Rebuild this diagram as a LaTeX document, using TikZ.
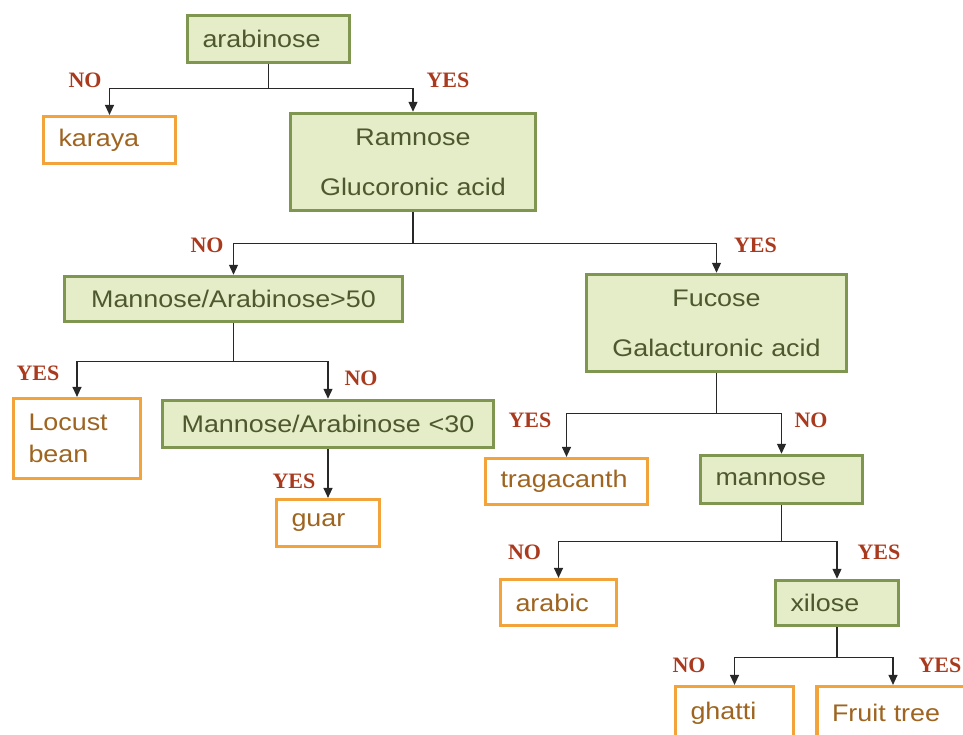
\documentclass[tikz,border=0pt]{standalone}
\usepackage{fontspec}
\setmainfont{Liberation Sans}[FakeStretch=1.12]
\newfontfamily\labelfont{Liberation Serif}
\usetikzlibrary{arrows.meta}

\definecolor{testfill}{RGB}{228,237,200}
\definecolor{testline}{RGB}{126,150,80}
\definecolor{testtext}{RGB}{78,88,46}
\definecolor{gumline}{RGB}{242,163,58}
\definecolor{gumtext}{RGB}{158,100,32}
\definecolor{answertext}{RGB}{170,58,30}
\definecolor{linkgray}{RGB}{40,40,40}

\begin{document}
\begin{tikzpicture}[x=1pt, y=-1pt,
		test/.style={draw=testline, fill=testfill, line width=3.5pt, text=testtext,
			inner xsep=15pt, inner ysep=0pt, font=\fontsize{24}{28}\selectfont},
		gum/.style={draw=gumline, fill=white, line width=3.2pt, text=gumtext,
			inner xsep=15pt, inner ysep=0pt, align=left, font=\fontsize{24}{28}\selectfont},
		link/.style={draw=linkgray, line width=1.2pt, -{Triangle[width=9pt,length=10pt]}},
		answer/.style={text=answertext, font=\labelfont\bfseries\fontsize{22}{24}\selectfont}]

			\useasboundingbox (0, 0) rectangle (963, 734);
			\fill[white] (0, 0) rectangle (963, 734);
			\clip (0, 0) rectangle (963, 734);

			% tests
			\node[test, align=left, text width=132pt, minimum height=47pt] (arabinose) at (268.5, 39) {arabinose};
			\node[test, align=center, text width=215pt, minimum height=97pt, font=\fontsize{24}{50}\selectfont]
				(ramnose) at (413, 162) {Ramnose\\Glucoronic acid};
			\node[test, align=center, text width=308pt, minimum height=45pt] (mgreater) at (233.5, 299) {Mannose/Arabinose>50};
			\node[test, align=center, text width=301pt, minimum height=47pt] (mless) at (328, 424) {Mannose/Arabinose <30};
			\node[test, align=center, text width=230pt, minimum height=97pt, font=\fontsize{24}{50}\selectfont]
				(fucose) at (716.5, 323) {Fucose\\Galacturonic acid};
			\node[test, align=left, text width=132pt, minimum height=48pt] (mannose) at (781.5, 479.5) {mannose};
			\node[test, align=left, text width=93pt, minimum height=45pt] (xilose) at (837, 603) {xilose};

			% gums
			\node[gum, text width=102pt, minimum height=47pt] (karaya) at (109.5, 140) {karaya};
			\node[gum, text width=97pt, minimum height=80pt, font=\fontsize{24}{32}\selectfont]
				(locust) at (77, 438.5) {Locust\\bean};
			\node[gum, text width=73pt, minimum height=47pt] (guar) at (328, 523) {guar};
			\node[gum, text width=132pt, minimum height=46pt] (tragacanth) at (566.5, 481.5) {tragacanth};
			\node[gum, text width=86pt, minimum height=46pt] (arabic) at (558.5, 602.5) {arabic};
			% these two run past the lower and right edges
			\node[gum, text width=88pt, minimum height=53pt] (ghatti) at (734.5, 713) {ghatti};
			\node[gum, text width=122pt, minimum height=53pt] (fruit) at (893, 713) {Fruit tree};

			% branches
			\draw[link] (arabinose.south) -- ++(0, 24) -| (karaya.north);
			\draw[link] (arabinose.south) -- ++(0, 24) -| (ramnose.north);
			\draw[link] (ramnose.south) -- ++(0, 31) -| (mgreater.north);
			\draw[link] (ramnose.south) -- ++(0, 31) -| (fucose.north);
			\draw[link] (mgreater.south) -- ++(0, 38) -| (locust.north);
			\draw[link] (mgreater.south) -- ++(0, 38) -| (mless.north);
			\draw[link] (mless.south) -- (guar.north);
			\draw[link] (fucose.south) -- ++(0, 40) -| (tragacanth.north);
			\draw[link] (fucose.south) -- ++(0, 40) -| (mannose.north);
			\draw[link] (mannose.south) -- ++(0, 36) -| (arabic.north);
			\draw[link] (mannose.south) -- ++(0, 36) -| (xilose.north);
			\draw[link] (xilose.south) -- ++(0, 30) -| (ghatti.north);
			\draw[link] (xilose.south) -- ++(0, 30) -| (fruit.north);

			% answers
			\node[answer] (no1) at (85, 80.5) {NO};
			\node[answer] (yes1) at (448, 80.5) {YES};
			\node[answer] (no2) at (207, 245) {NO};
			\node[answer] (yes2) at (755.5, 245) {YES};
			\node[answer] (yes3) at (38, 373.5) {YES};
			\node[answer] (no3) at (361, 378) {NO};
			\node[answer] (yes4) at (294, 481) {YES};
			\node[answer] (yes5) at (530, 420) {YES};
			\node[answer] (no4) at (811, 420) {NO};
			\node[answer] (no5) at (524.5, 552) {NO};
			\node[answer] (yes6) at (879, 552) {YES};
			\node[answer] (no6) at (689, 665.5) {NO};
			\node[answer] (yes7) at (940, 665.5) {YES};

		\end{tikzpicture}
\end{document}
